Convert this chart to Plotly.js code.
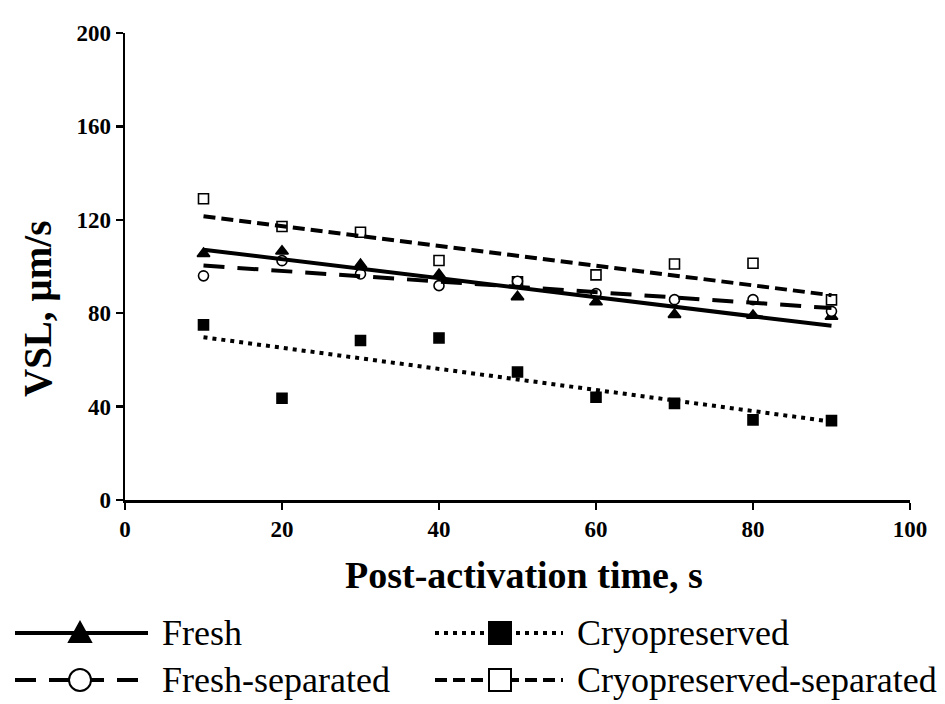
<!DOCTYPE html>
<html>
<head>
<meta charset="utf-8">
<script src="https://cdn.plot.ly/plotly-3.0.1.min.js"></script>
<style>html,body{margin:0;padding:0;background:#fff;}#chart{width:945px;height:704px;}</style>
</head>
<body>
<div id="chart"></div>
<script>
// ---- data ----
const times = [10, 20, 30, 40, 50, 60, 70, 80, 90];
const fresh = [105.5, 106.5, 100.8, 96.5, 87, 84.8, 79.4, 79, 78.6];
const freshSep = [96, 102.5, 96.8, 91.8, 93.7, 88.4, 85.8, 85.8, 80.8];
const cryo = [75, 43.6, 68.3, 69.4, 54.8, 44, 41.4, 34.3, 34];
const cryoSep = [129, 117.1, 114.7, 102.6, 93.5, 96.4, 101.1, 101.4, 85.7];
const seriesNames = ["Fresh", "Fresh-separated", "Cryopreserved", "Cryopreserved-separated"];
const xTicks = [0, 20, 40, 60, 80, 100];
const yTicks = [0, 40, 80, 120, 160, 200];
const xTitle = "Post-activation time, s";
const yTitle = "VSL, µm/s";

// ---- linear trendline (least squares), like a spreadsheet trendline ----
function fit(xs, ys) {
  const n = xs.length;
  const mx = xs.reduce((a, b) => a + b, 0) / n;
  const my = ys.reduce((a, b) => a + b, 0) / n;
  let sxy = 0, sxx = 0;
  for (let i = 0; i < n; i++) { sxy += (xs[i] - mx) * (ys[i] - my); sxx += (xs[i] - mx) ** 2; }
  const b = sxy / sxx, a = my - b * mx;
  const x0 = Math.min(...xs), x1 = Math.max(...xs);
  return { x: [x0, x1], y: [a + b * x0, a + b * x1] };
}

const FONT = "Liberation Serif, Times New Roman, serif";
const series = [
  { name: seriesNames[0], y: fresh, sym: "triangle-up", fill: "#000", size: 11, dash: "solid" },
  { name: seriesNames[1], y: freshSep, sym: "circle", fill: "#fff", size: 10, dash: "21px,13px" },
  { name: seriesNames[2], y: cryo, sym: "square", fill: "#000", size: 10, dash: "4px,5px" },
  { name: seriesNames[3], y: cryoSep, sym: "square", fill: "#fff", size: 10, dash: "12px,6px" }
];

const traces = [];
// markers first (cryo-separated lowest), lines on top
[3, 2, 0, 1].forEach(i => {
  const s = series[i];
  traces.push({
    type: "scatter", mode: "markers", x: times, y: s.y, name: s.name, showlegend: false,
    marker: { symbol: s.sym, size: s.size, color: s.fill, line: { color: "#000", width: 1.6 } },
    hoverinfo: "x+y+name"
  });
});
series.forEach(s => {
  const f = fit(times, s.y);
  traces.push({
    type: "scatter", mode: "lines", x: f.x, y: f.y, name: s.name + " trend", showlegend: false,
    line: { color: "#000", width: 4, dash: s.dash }, hoverinfo: "skip"
  });
});

// ---- layout geometry (pixels) ----
const W = 945, H = 704, L = 125, R = 35, T = 33, B = 204;
const pw = W - L - R, ph = H - T - B;
const px = v => (v - L) / pw;
const py = v => (H - B - v) / ph;

// ---- custom legend (long sample lines, big markers) ----
const legendItems = [
  { s: 0, lx0: 15, lx1: 148, mx: 80, y: 633, tx: 160 },
  { s: 1, lx0: 15, lx1: 148, mx: 80, y: 680, tx: 160 },
  { s: 2, lx0: 435, lx1: 563, mx: 500, y: 633, tx: 575 },
  { s: 3, lx0: 435, lx1: 563, mx: 500, y: 680, tx: 575 }
];
const shapes = [];
const annotations = [];
legendItems.forEach(it => {
  const s = series[it.s];
  shapes.push({ type: "line", xref: "paper", yref: "paper", x0: px(it.lx0), x1: px(it.lx1), y0: py(it.y), y1: py(it.y),
    line: { color: "#000", width: 4, dash: s.dash } });
  const base = { xref: "paper", yref: "paper", xsizemode: "pixel", ysizemode: "pixel",
    xanchor: px(it.mx), yanchor: py(it.y), fillcolor: s.fill, line: { color: "#000", width: 2 } };
  if (s.sym === "triangle-up") {
    shapes.push(Object.assign({}, base, { type: "path", path: "M-11,-9L11,-9L0,11Z" }));
  } else if (s.sym === "circle") {
    shapes.push(Object.assign({}, base, { type: "circle", x0: -11, x1: 11, y0: -11, y1: 11 }));
  } else {
    shapes.push(Object.assign({}, base, { type: "rect", x0: -11, x1: 11, y0: -11, y1: 11 }));
  }
  annotations.push({ xref: "paper", yref: "paper", x: px(it.tx), y: py(it.y), xanchor: "left", yanchor: "middle",
    text: s.name, showarrow: false, font: { family: FONT, size: 36, color: "#000" } });
});

// axis titles
annotations.push({ xref: "paper", yref: "paper", x: px(524), y: py(575), xanchor: "center", yanchor: "middle",
  text: xTitle, showarrow: false, font: { family: FONT, size: 38, color: "#000", weight: 700 } });
annotations.push({ xref: "paper", yref: "paper", x: px(38), y: py(309), xanchor: "center", yanchor: "middle",
  text: yTitle, textangle: -90, showarrow: false, font: { family: FONT, size: 39, color: "#000", weight: 700 } });

function axis(range, ticks) {
  return {
    range: range, tickvals: ticks, ticktext: ticks.map(String),
    showline: true, linecolor: "#000", linewidth: 2.5, showgrid: false, zeroline: false,
    ticks: "outside", ticklen: 7, tickwidth: 2.5, tickcolor: "#000",
    tickfont: { family: FONT, size: 23, color: "#000", weight: 700 }, fixedrange: true
  };
}

const layout = {
  width: W, height: H,
  margin: { l: L, r: R, t: T, b: B, pad: 0 },
  paper_bgcolor: "#fff", plot_bgcolor: "#fff",
  showlegend: false,
  xaxis: axis([0, 100], xTicks),
  yaxis: axis([0, 200], yTicks),
  shapes: shapes,
  annotations: annotations
};

Plotly.newPlot("chart", traces, layout, { displayModeBar: false, staticPlot: true });
</script>
</body>
</html>
